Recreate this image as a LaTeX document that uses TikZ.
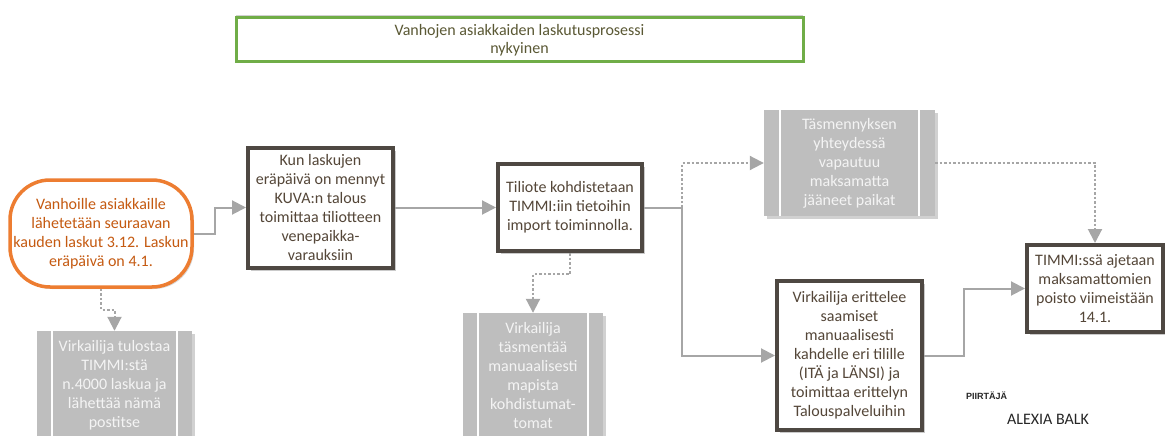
\documentclass[tikz,border=0pt]{standalone}
\usepackage{fontspec}
\setmainfont{Carlito}
\newfontfamily\labelfont{Liberation Sans}
\usetikzlibrary{arrows.meta,shadows}
\definecolor{boxline}{RGB}{78,72,66}
\definecolor{boxtext}{RGB}{84,70,56}
\definecolor{orangeline}{RGB}{237,125,49}
\definecolor{orangetext}{RGB}{197,90,17}
\definecolor{greenline}{RGB}{112,173,71}
\definecolor{titletext}{RGB}{90,88,52}
\definecolor{flowgray}{RGB}{166,166,166}
\definecolor{subfill}{RGB}{190,190,190}
\definecolor{subtext}{RGB}{244,244,244}
\begin{document}
\begin{tikzpicture}[x=1pt,y=-1pt,
  every node/.style={font=\fontsize{16}{19}\selectfont, align=center, inner sep=0pt},
  stepbox/.style={draw=boxline, line width=4pt, fill=white, text=boxtext,
    drop shadow={shadow xshift=3pt, shadow yshift=-3pt, opacity=0.35, fill=black!60}},
  startbox/.style={draw=orangeline, line width=3.5pt, fill=white, text=orangetext,
    rounded corners=40pt,
    drop shadow={shadow xshift=2pt, shadow yshift=-2pt, opacity=0.25, fill=black!60}},
  subbox/.style={fill=subfill, text=subtext,
    drop shadow={shadow xshift=3pt, shadow yshift=-3pt, opacity=0.3, fill=black!60}},
  titlebox/.style={draw=greenline, line width=3pt, fill=white, text=titletext,
    font=\fontsize{16}{18.5}\selectfont,
    drop shadow={shadow xshift=0pt, shadow yshift=3pt, opacity=0.3, fill=black!60}},
  flow/.style={draw=flowgray, line width=2pt, -{Triangle[length=14pt,width=14pt]}},
  aside/.style={flow, dash pattern=on 2.5pt off 2pt}
]
\useasboundingbox (0,0) rectangle (1165,436);

% title
\node[titlebox, minimum width=567pt, minimum height=44pt] (title) at (519.5,40)
  {Vanhojen asiakkaiden laskutusprosessi\\nykyinen};

% main flow
\node[startbox, minimum width=182pt, minimum height=107pt] (start) at (101,233.5)
  {Vanhoille asiakkaille\\lähetetään seuraavan\\kauden laskut 3.12. Laskun\\eräpäivä on 4.1.};
\node[stepbox, minimum width=145pt, minimum height=120pt] (kuva) at (320.5,207.5)
  {Kun laskujen\\eräpäivä on mennyt\\KUVA:n talous\\toimittaa tiliotteen\\venepaikka-\\varauksiin};
\node[stepbox, minimum width=144pt, minimum height=87pt] (tiliote) at (570,207.5)
  {Tiliote kohdistetaan\\TIMMI:iin tietoihin\\import toiminnolla.};
\node[stepbox, minimum width=145pt, minimum height=149pt] (erittely) at (849.5,355.5)
  {Virkailija erittelee\\saamiset\\manuaalisesti\\kahdelle eri tilille\\(ITÄ ja LÄNSI) ja\\toimittaa erittelyn\\Talouspalveluihin};
\node[stepbox, minimum width=136pt, minimum height=87pt] (poisto) at (1095,288.5)
  {TIMMI:ssä ajetaan\\maksamattomien\\poisto viimeistään\\14.1.};

% side processes
\node[subbox, minimum width=155pt, minimum height=108pt] (tulostus) at (114.5,385)
  {Virkailija tulostaa\\TIMMI:stä\\n.4000 laskua ja\\lähettää nämä\\postitse};
\node[subbox, minimum width=140pt, minimum height=125pt] (tasmennys) at (533,375.5)
  {Virkailija\\täsmentää\\manuaalisesti\\mapista\\kohdistumat-\\tomat};
\node[subbox, minimum width=171pt, minimum height=106pt] (vapautus) at (849.5,163)
  {Täsmennyksen\\yhteydessä\\vapautuu\\maksamatta\\jääneet paikat};

% white dividers of the side process boxes
\foreach \n/\d in {tulostus/15, tasmennys/15, vapautus/16}{
  \draw[white, line width=1.5pt] ([xshift=\d pt]\n.north west) -- ([xshift=\d pt]\n.south west);
  \draw[white, line width=1.5pt] ([xshift=-\d pt]\n.north east) -- ([xshift=-\d pt]\n.south east);
}

% connectors
\coordinate (split) at (682,207.5);
\draw[flow] (start.east) -- ++(21,0) |- (kuva.west);
\draw[flow] (kuva.east) -- (tiliote.west);
\draw[draw=flowgray, line width=2pt] (tiliote.east) -- (split);
\draw[flow] (split) |- (erittely.west);
\draw[aside] (split) |- (vapautus.west);
\draw[aside] (vapautus.east) -| (poisto.north);
\draw[flow] (erittely.east) -- ++(40,0) |- (poisto.west);
\draw[aside] (start.south) -- ++(0,21) -| (tulostus.north);
\draw[aside] (tiliote.south) -- ++(0,21) -| (tasmennys.north);

% author
\node[font=\labelfont\fontsize{9}{11}\bfseries, text=black!85] (piirtaja) at (986.5,396) {PIIRTÄJÄ};
\node[font=\fontsize{16}{19}\selectfont, text=black!85] (tekija) at (1048,419) {ALEXIA BALK};
\end{tikzpicture}
\end{document}
